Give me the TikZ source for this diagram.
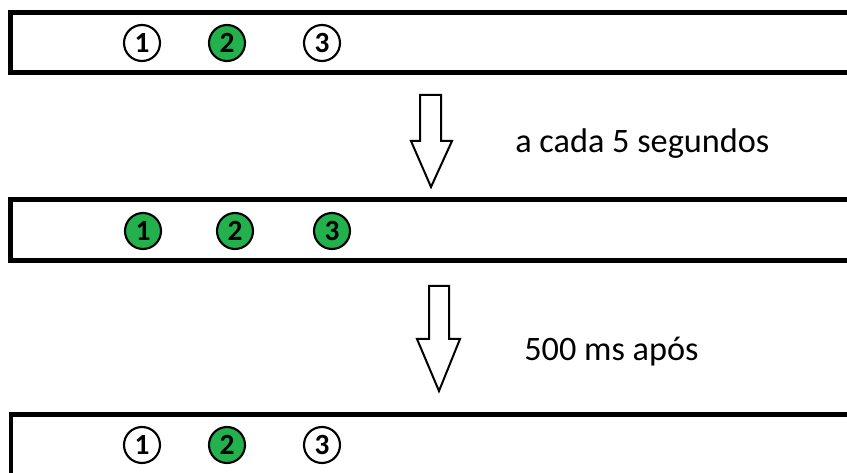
\documentclass[tikz,border=0pt]{standalone}
\usepackage{fontspec}
\setmainfont{Carlito}
\usepackage{tikz}
\definecolor{ledgreen}{RGB}{34,177,76}
\tikzset{
	led/.style={circle, draw, line width=1.6pt, minimum size=27pt, inner sep=0pt, font=\fontsize{22}{22}\selectfont\bfseries},
	ledon/.style={led, fill=ledgreen},
	strip/.style={line width=3.4pt},
	blockarrow/.style={line width=1.5pt, fill=white, line join=miter},
	caption/.style={anchor=base west, inner sep=0pt, font=\fontsize{25.7}{27}\selectfont}
}

\begin{document}
\begin{tikzpicture}[x=0.75pt, y=-0.75pt]
	\useasboundingbox (0,0) rectangle (847,473);
	\clip (0,0) rectangle (847,473);
	% strips
	\draw[strip] (870,12.5) -- (10.5,12.5) -- (10.5,72.5) -- (870,72.5);
	\draw[strip] (870,199.5) -- (10.5,199.5) -- (10.5,260.5) -- (870,260.5);
	\draw[strip] (870,414.5) -- (11,414.5) -- (11,490);
	% first state
	\node[led] (a1) at (142,43) {1};
	\node[ledon] (a2) at (227,43) {2};
	\node[led] (a3) at (322,43) {3};
	% second state
	\node[ledon] (b1) at (143,231) {1};
	\node[ledon] (b2) at (235,231) {2};
	\node[ledon] (b3) at (332,231) {3};
	% third state
	\node[led] (c1) at (142,445) {1};
	\node[ledon] (c2) at (227,445) {2};
	\node[led] (c3) at (322,445) {3};
	% arrows
	\draw[blockarrow] (420,95) -- (441,95) -- (441,141) -- (452,141) -- (431,187) -- (411,141) -- (420,141) -- cycle;
	\draw[blockarrow] (429,286) -- (449,286) -- (449,339) -- (460,339) -- (439,391) -- (417,339) -- (429,339) -- cycle;
	\node[caption] (t1) at (515,153) {a cada 5 segundos};
	\node[caption] (t2) at (524,361) {500 ms após};
\end{tikzpicture}
\end{document}
